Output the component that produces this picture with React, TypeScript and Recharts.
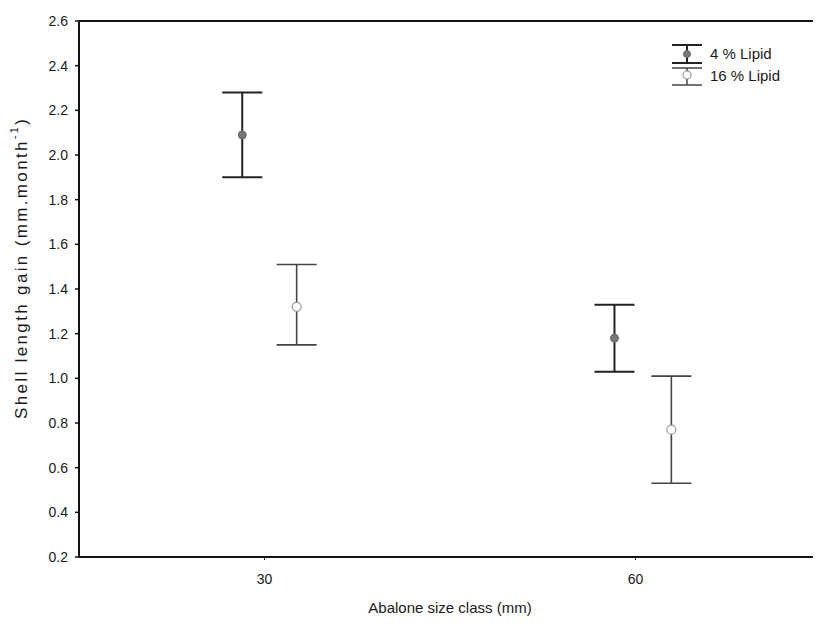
import React from 'react';
import { ScatterChart, Scatter, XAxis, YAxis, ErrorBar, ReferenceLine, Legend, Label } from 'recharts';

const sizeTicks = [30, 60];
const yTicks = [0.2, 0.4, 0.6, 0.8, 1.0, 1.2, 1.4, 1.6, 1.8, 2.0, 2.2, 2.4, 2.6];

const lipid4X = [28.2, 58.3];
const lipid4Mean = [2.09, 1.18];
const lipid4Low = [1.9, 1.03];
const lipid4High = [2.28, 1.33];

const lipid16X = [32.6, 62.9];
const lipid16Mean = [1.32, 0.77];
const lipid16Low = [1.15, 0.53];
const lipid16High = [1.51, 1.01];

const build = (xs: number[], m: number[], lo: number[], hi: number[]) =>
  xs.map((x, i) => ({ x, y: m[i], err: [m[i] - lo[i], hi[i] - m[i]] }));

const data4 = build(lipid4X, lipid4Mean, lipid4Low, lipid4High);
const data16 = build(lipid16X, lipid16Mean, lipid16Low, lipid16High);

const FONT = '"Liberation Sans", Arial, Helvetica, sans-serif';

const YTitle = (props: any) => {
  const vb = props.viewBox || { x: 0, y: 0, width: 0, height: 0 };
  const cx = 13;
  const cy = vb.y + vb.height / 2 - 20;
  return (
    <text
      x={cx}
      y={cy}
      transform={`rotate(-90, ${cx}, ${cy})`}
      textAnchor="middle"
      dominantBaseline="central"
      fontFamily={FONT}
      fontSize={17}
      textLength={300}
      lengthAdjust="spacing"
      fill="#1a1a1a"
    >
      Shell length gain (mm.month
      <tspan fontSize={11} dy={-7}>-1</tspan>
      <tspan dy={7}>)</tspan>
    </text>
  );
};

const LegendBox = () => (
  <svg width={150} height={52} style={{ display: 'block', overflow: 'visible' }}>
    <g stroke="#222" strokeWidth={2}>
      <line x1={4} y1={7} x2={34} y2={7} />
      <line x1={19} y1={7} x2={19} y2={25} />
      <line x1={4} y1={25} x2={34} y2={25} />
    </g>
    <circle cx={19} cy={16} r={3.5} fill="#777" stroke="#666" />
    <g stroke="#444" strokeWidth={1.5}>
      <line x1={4} y1={30} x2={34} y2={30} />
      <line x1={19} y1={30} x2={19} y2={47} />
      <line x1={4} y1={47} x2={34} y2={47} />
    </g>
    <circle cx={19} cy={37} r={4} fill="#fff" stroke="#999" strokeWidth={1.2} />
    <text x={42} y={21} fontFamily={FONT} fontSize={15} fill="#1a1a1a">4 % Lipid</text>
    <text x={42} y={43} fontFamily={FONT} fontSize={15} fill="#1a1a1a">16 % Lipid</text>
  </svg>
);

export default function App() {
  return (
    <div style={{ width: 813, height: 608, overflow: 'hidden' }}>
      <ScatterChart width={813} height={608} margin={{ top: 13, right: 0, bottom: 0, left: 0 }}>
        <XAxis
          type="number"
          dataKey="x"
          domain={[15, 75]}
          ticks={sizeTicks}
          allowDataOverflow
          height={59}
          axisLine={{ stroke: '#111', strokeWidth: 2 }}
          tickLine={{ stroke: '#111' }}
          tickSize={3}
          tickMargin={14}
          tick={{ fontFamily: FONT, fontSize: 14, fill: '#1a1a1a' }}
        >
          <Label
            value="Abalone size class (mm)"
            position="insideBottom"
            offset={3}
            style={{ fontFamily: FONT, fontSize: 15, fill: '#1a1a1a' }}
          />
        </XAxis>
        <YAxis
          type="number"
          dataKey="y"
          domain={[0.2, 2.6]}
          ticks={yTicks}
          width={71}
          axisLine={{ stroke: '#111', strokeWidth: 2 }}
          tickLine={{ stroke: '#111', strokeWidth: 1.5 }}
          tickSize={4}
          tickMargin={7}
          tickFormatter={(v: number) => v.toFixed(1)}
          tick={{ fontFamily: FONT, fontSize: 14, fill: '#1a1a1a' }}
          label={{ content: (p: any) => <YTitle {...p} /> }}
        />
        <ReferenceLine y={2.6} stroke="#111" strokeWidth={2} />
        <Legend
          layout="horizontal"
          verticalAlign="middle"
          align="center"
          wrapperStyle={{ left: 660, top: 30, width: 150, height: 52 }}
          content={() => <LegendBox />}
        />
        <Scatter
          name="4 % Lipid"
          data={data4}
          isAnimationActive={false}
          shape={(p: any) => <circle cx={p.cx} cy={p.cy} r={4} fill="#777" stroke="#666" strokeWidth={1} />}
        >
          <ErrorBar dataKey="err" direction="y" width={20} stroke="#222" strokeWidth={2} />
        </Scatter>
        <Scatter
          name="16 % Lipid"
          data={data16}
          isAnimationActive={false}
          shape={(p: any) => <circle cx={p.cx} cy={p.cy} r={4.5} fill="#fff" stroke="#999" strokeWidth={1.2} />}
        >
          <ErrorBar dataKey="err" direction="y" width={20} stroke="#444" strokeWidth={1.6} />
        </Scatter>
      </ScatterChart>
    </div>
  );
}
